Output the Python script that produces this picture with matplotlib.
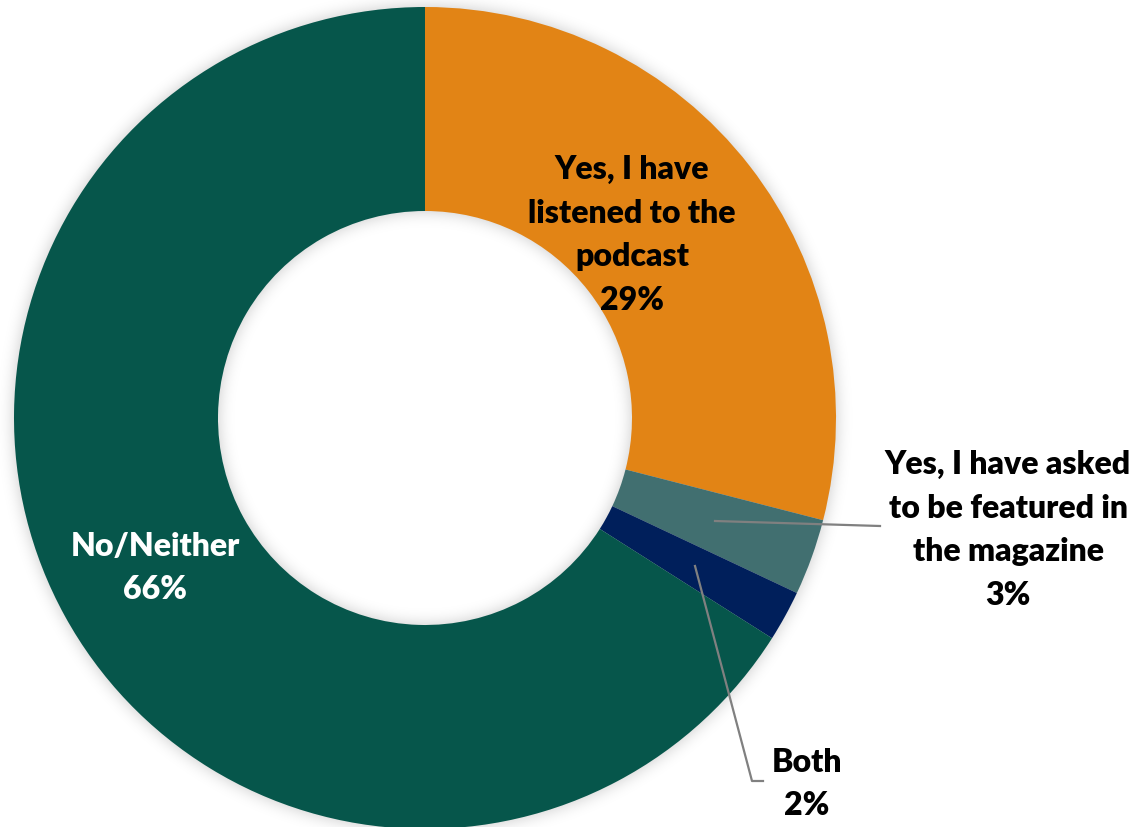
import numpy as np
import matplotlib
matplotlib.use("Agg")
import matplotlib.pyplot as plt

# Survey answers and their shares (%)
categories = [
    "Yes, I have\nlistened to the\npodcast",
    "Yes, I have asked\nto be featured in\nthe magazine",
    "Both",
    "No/Neither",
]
shares = [29, 3, 2, 66]
colors = ["#E28415", "#416F70", "#001F5B", "#06564B"]

W, H = 1137, 828
cx, cy = 425, 409          # centre of the ring (y measured from bottom)
r_out, r_in = 411, 207

fig = plt.figure(figsize=(W / 100, H / 100), dpi=100)
ax = fig.add_axes([0, 0, 1, 1])
ax.set_xlim(0, W)
ax.set_ylim(0, H)
ax.set_aspect("equal")
ax.axis("off")

# Soft shadow around the ring
yy, xx = np.mgrid[0:H, 0:W]
dist = np.hypot(xx + 0.5 - cx, (H - yy - 0.5) - cy)
mask = ((dist <= r_out) & (dist >= r_in)).astype(float)
sigma = 8.0
k = np.arange(-3 * int(sigma), 3 * int(sigma) + 1)
g = np.exp(-k ** 2 / (2 * sigma ** 2))
g /= g.sum()
blur = np.apply_along_axis(lambda v: np.convolve(v, g, mode="same"), 1, mask)
blur = np.apply_along_axis(lambda v: np.convolve(v, g, mode="same"), 0, blur)
shadow = np.zeros((H, W, 4))
shadow[..., 3] = 0.22 * blur
ax.imshow(shadow, extent=(0, W, 0, H), origin="upper", zorder=0, interpolation="bilinear")

ax.pie(shares, colors=colors, startangle=90, counterclock=False,
       center=(cx, cy), radius=r_out, frame=True,
       wedgeprops=dict(width=r_out - r_in, linewidth=0))
ax.set_xlim(0, W)
ax.set_ylim(0, H)
ax.axis("off")

font = dict(family=["Lato", "DejaVu Sans"], fontweight="heavy", fontsize=23,
            ha="center", va="center", linespacing=1.62)

labels = [f"{c}\n{s}%" for c, s in zip(categories, shares)]
ax.text(632, H - 235, labels[0], color="black", **font)
ax.text(1008, H - 530, labels[1], color="black", **font)
ax.text(807, H - 784, labels[2], color="black", **font)
ax.text(155, H - 568, labels[3], color="white", **font)

# Leader lines
ax.plot([715, 880], [H - 522, H - 527], color="#808080", lw=1.6, zorder=5)
ax.plot([695, 752, 763], [H - 567, H - 782, H - 782], color="#808080", lw=1.6, zorder=5)

fig.savefig("out.png", dpi=100)
